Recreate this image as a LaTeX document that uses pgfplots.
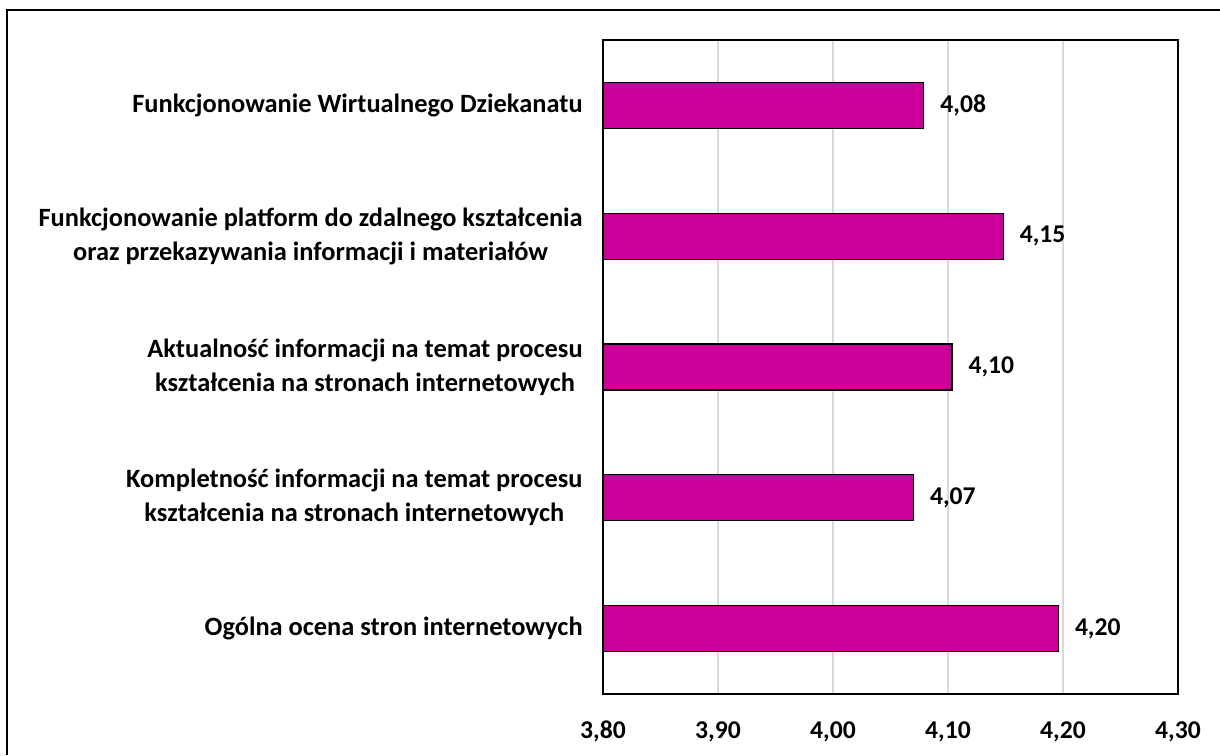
\documentclass[border=0pt]{standalone}
\usepackage{fontspec}
\setmainfont{Carlito}
\usepackage{pgfplots}
\pgfplotsset{compat=1.18}
\definecolor{barmag}{HTML}{CC0099}
\definecolor{gridgray}{HTML}{D9D9D9}
\begin{document}
\begin{tikzpicture}
\useasboundingbox (0pt,0pt) rectangle (610pt,377.5pt);
\draw[line width=0.8pt] (3.5pt,0pt) -- (3.5pt,372.5pt) -- (610pt,372.5pt);
\begin{axis}[
  at={(301.5pt,30.5pt)}, anchor=south west,
  scale only axis, width=287.5pt, height=327pt,
  xbar, bar width=23pt,
  xmin=3.8, xmax=4.3, ymin=-0.5, ymax=4.5,
  xtick={3.8,3.9,4.0,4.1,4.2,4.3},
  ytick={0,1,2,3,4},
  yticklabels={
    {Ogólna ocena stron internetowych},
    {Kompletność informacji na temat procesu\\kształcenia na stronach internetowych},
    {Aktualność informacji na temat procesu\\kształcenia na stronach internetowych},
    {Funkcjonowanie platform do zdalnego kształcenia\\oraz przekazywania informacji i materiałów},
    {Funkcjonowanie Wirtualnego Dziekanatu}},
  /pgf/number format/.cd, fixed, fixed zerofill, precision=2, use comma, assume math mode=true,
  /pgfplots/.cd,
  major tick length=0pt,
  axis line style={black, line width=0.6pt},
  xmajorgrids, grid style={gridgray, line width=0.6pt},
  xticklabel style={font=\bfseries\fontsize{12.8}{15}\selectfont, anchor=base, inner sep=0pt, yshift=-22pt},
  yticklabel style={font=\bfseries\fontsize{13.2}{17}\selectfont, align=center, anchor=east, inner sep=0pt, xshift=-10pt},
  point meta=x,
  nodes near coords={\pgfmathprintnumber[fixed,fixed zerofill,precision=2,use comma,assume math mode=true]{\pgfplotspointmeta}},
  nodes near coords style={font=\bfseries\fontsize{12.8}{15}\selectfont, anchor=west, inner sep=0pt, xshift=8pt, black},
]
\addplot[fill=barmag, draw=black, line width=0.6pt] coordinates {
  (4.196,0) (4.070,1) (4.1035,2) (4.148,3) (4.079,4)
};
\end{axis}
\end{tikzpicture}
\end{document}
